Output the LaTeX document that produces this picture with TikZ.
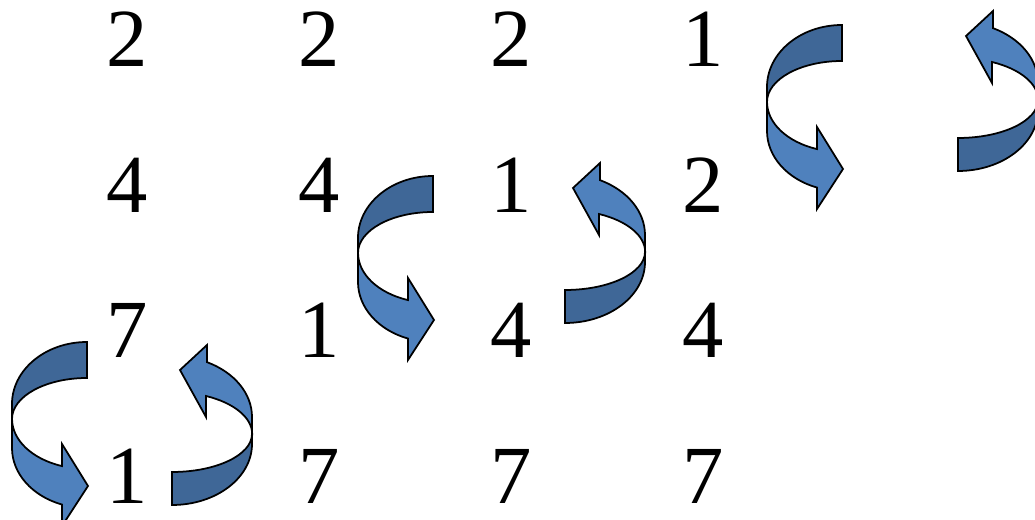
\documentclass[tikz,border=0pt]{standalone}
\usepackage{fontspec}
\setmainfont{Liberation Serif}
\definecolor{ribbon}{HTML}{4F81BD}
\definecolor{ribbondark}{HTML}{3F6797}
\usetikzlibrary{arrows.meta}
\tikzset{
  num/.style={anchor=base,inner sep=0pt,font=\fontsize{47}{56}\selectfont},
  frontface/.style={fill=ribbon,draw=black,line width=1pt},
  backface/.style={fill=ribbondark,draw=black,line width=1pt}
}

\begin{document}
\begin{tikzpicture}[x=0.02cm,y=0.02cm]
    \tikzset{turnleft/.pic={
        \filldraw[backface] (0,62) arc[start angle=90,end angle=180,x radius=75,y radius=62]
            -- (-75,-15) arc[start angle=180,end angle=90,x radius=75,y radius=41] -- cycle;
        \filldraw[frontface] (-75,-15) -- (-75,-44)
            arc[start angle=180,end angle=250.5,x radius=75,y radius=60]
            -- (-25,-122) -- (1,-82) -- (-25,-40) -- (-25,-62.1)
            arc[start angle=250.5,end angle=180,x radius=75,y radius=50] -- cycle;},
             turnright/.pic={
        \filldraw[backface] (0,-71) arc[start angle=270,end angle=360,x radius=80,y radius=61]
            -- (80,0) arc[start angle=0,end angle=-90,x radius=80,y radius=38] -- cycle;
        \filldraw[frontface] (80,0) -- (80,17)
            arc[start angle=0,end angle=64,x radius=80,y radius=61]
            -- (35,89) -- (8,64) -- (34,17) -- (34,38)
            arc[start angle=65,end angle=0,x radius=80,y radius=42] -- cycle;}}
    \useasboundingbox (0,0) rectangle (1035,520);
    % columns of digits
    \foreach \d [count=\r] in {2,4,7,1}
        \node[num] (a\r) at (127.5,{453.3-145.5*(\r-1)}) {\d};
    \foreach \d [count=\r] in {2,4,1,7}
        \node[num] (b\r) at (319.5,{453.3-145.5*(\r-1)}) {\d};
    \foreach \d [count=\r] in {2,1,4,7}
        \node[num] (c\r) at (511.5,{453.3-145.5*(\r-1)}) {\d};
    \foreach \d [count=\r] in {1,2,4,7}
        \node[num] (d\r) at (703.5,{453.3-145.5*(\r-1)}) {\d};
    % swap arrows
    \pic at (87,116) {turnleft};   \pic at (172,86) {turnright};
    \pic at (433,282) {turnleft};  \pic at (565,268) {turnright};
    \pic at (842,433) {turnleft};  \pic at (958,420) {turnright};
\end{tikzpicture}
\end{document}
